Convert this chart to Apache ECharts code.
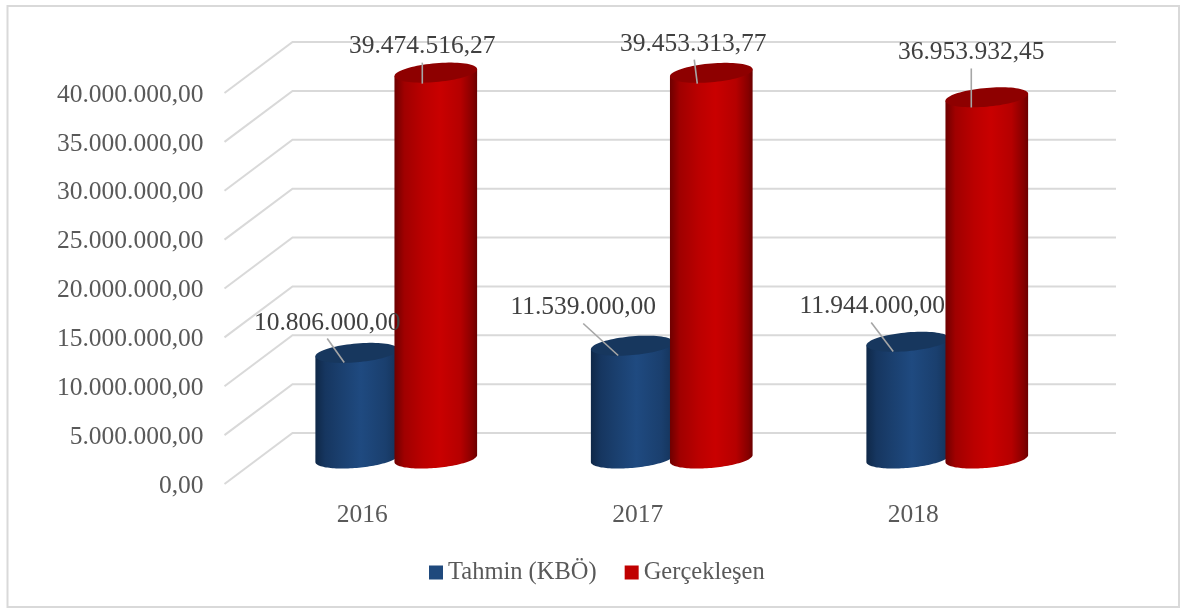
<!DOCTYPE html>
<html>
<head>
<meta charset="utf-8">
<style>html,body{margin:0;padding:0;background:#fff}#c{width:1180px;height:608px}</style>
<script src="https://cdn.jsdelivr.net/npm/echarts@6/dist/echarts.min.js"></script>
</head>
<body>
<div id="c"></div>
<script>
const categories = ['2016', '2017', '2018'];
const seriesNames = ['Tahmin (KBÖ)', 'Gerçekleşen'];
const tahmin = [10806000.00, 11539000.00, 11944000.00];
const gerceklesen = [39474516.27, 39453313.77, 36953932.45];
const axisTicks = [0, 5000000, 10000000, 15000000, 20000000, 25000000, 30000000, 35000000, 40000000];

// Layout of the pseudo-3D look (screen pixels, separate from the data)
const FONT = '"Liberation Serif", serif';
const FONT_SIZE = 25.5;
const DEPTH_X = 68, DEPTH_Y = -51, WALL_INSET = 3;
// label centre, leader start, leader end, relative to each cap centre
const blueLabelLayout = [
  [[-29.5, -29.4], [-29.5, -14.4], [-12.5, 9.6]],
  [[-49, -38.2], [-49, -22.2], [-14, 9.8]],
  [[-35.5, -35.2], [-36.5, -19.2], [-14.5, 9.8]]
];
const redLabelLayout = [
  [[-13.5, -26], [-13.5, -10], [-13.5, 11]],
  [[-18, -28.3], [-17, -13.3], [-14, 10.7]],
  [[-15.5, -44.8], [-15.5, -28.8], [-15.5, 10.2]]
];

const fmt = v => {
  const s = v.toFixed(2).split('.');
  return s[0].replace(/\B(?=(\d{3})+$)/g, '.') + ',' + s[1];
};

function ellipsePts(cx, cy, a, b, k, from, to, n) {
  const pts = [];
  for (let i = 0; i <= n; i++) {
    const t = from + (to - from) * i / n;
    pts.push([cx + a * Math.cos(t), cy + b * Math.sin(t) - k * Math.cos(t)]);
  }
  return pts;
}

function cylinder(side, stops, capColor, layout) {
  return function (params, api) {
    const i = api.value(0), v = api.value(1);
    const band = api.size([1, 0])[0];
    const a = band * 0.15, b = 9.4, k = 3.5;
    const p = api.coord([i, v]), p0 = api.coord([i, 0]);
    const cx = p[0] + DEPTH_X / 2 + side * band * 0.1435;
    const topY = p[1] + DEPTH_Y / 2, botY = p0[1] + DEPTH_Y / 2;
    const body = [[cx - a, topY + k]]
      .concat(ellipsePts(cx, botY, a, b, k, Math.PI, 0, 60))
      .concat([[cx + a, topY - k]]);
    const cap = ellipsePts(cx, topY, a, b, k, 0, Math.PI * 2, 80);
    const l = layout[i];
    return {
      type: 'group',
      children: [
        { type: 'polygon', shape: { points: body },
          style: { fill: { type: 'linear', x: 0, y: 0, x2: 1, y2: 0, colorStops: stops } } },
        { type: 'polygon', shape: { points: cap }, style: { fill: capColor } },
        { type: 'line', z2: 20,
          shape: { x1: cx + l[1][0], y1: topY + l[1][1], x2: cx + l[2][0], y2: topY + l[2][1] },
          style: { stroke: '#a6a6a6', lineWidth: 1.6 } },
        { type: 'text', z2: 21, x: cx + l[0][0], y: topY + l[0][1],
          style: { text: fmt(v), fill: '#404040', font: FONT_SIZE + 'px ' + FONT,
                   textAlign: 'center', textVerticalAlign: 'middle' } }
      ]
    };
  };
}

const blueStops = [
  { offset: 0, color: '#0f2848' }, { offset: 0.12, color: '#163660' },
  { offset: 0.3, color: '#1a3f6e' }, { offset: 0.55, color: '#1f4a80' },
  { offset: 0.85, color: '#1a3f6e' }, { offset: 1, color: '#14335a' }
];
const redStops = [
  { offset: 0, color: '#6e0000' }, { offset: 0.12, color: '#a00000' },
  { offset: 0.35, color: '#bb0000' }, { offset: 0.55, color: '#c90000' },
  { offset: 0.8, color: '#b50000' }, { offset: 0.95, color: '#850000' }, { offset: 1, color: '#6a0000' }
];

const chart = echarts.init(document.getElementById('c'), null, { renderer: 'canvas' });
chart.setOption({
  animation: false,
  backgroundColor: '#ffffff',
  graphic: [{
    type: 'rect', silent: true, z: 0,
    shape: { x: 7.5, y: 6, width: 1171.5, height: 601 },
    style: { fill: '#ffffff', stroke: '#d9d9d9', lineWidth: 2 }
  }],
  grid: { left: 224.5, right: 129, top: 93, bottom: 124 },
  legend: {
    data: seriesNames, left: 424, top: 555, itemWidth: 14, itemHeight: 14, itemGap: 28,
    icon: 'rect', selectedMode: false,
    textStyle: { fontFamily: FONT, fontSize: 24.5, color: '#595959' }
  },
  xAxis: {
    type: 'category', data: categories,
    axisLine: { show: false }, axisTick: { show: false }, splitLine: { show: false },
    axisLabel: { fontFamily: FONT, fontSize: FONT_SIZE, color: '#595959', margin: 18 }
  },
  yAxis: {
    type: 'value', min: 0, max: 40000000, interval: 5000000,
    axisLine: { show: false }, axisTick: { show: false }, splitLine: { show: false },
    axisLabel: {
      margin: 21,
      formatter: v => '{t|' + fmt(v) + '}',
      rich: { t: { fontFamily: FONT, fontSize: FONT_SIZE, color: '#595959', padding: [4, 0, 0, 0] } }
    }
  },
  series: [
    {
      type: 'custom', name: 'wall', silent: true, clip: false, z: 1,
      data: axisTicks.map(v => [0, v]), encode: { x: 0, y: 1 },
      renderItem(params, api) {
        const cs = params.coordSys;
        const y = api.coord([0, api.value(1)])[1];
        return {
          type: 'polyline',
          shape: { points: [[cs.x, y], [cs.x + DEPTH_X, y + DEPTH_Y],
                            [cs.x + cs.width + DEPTH_X - WALL_INSET, y + DEPTH_Y]] },
          style: { fill: null, stroke: '#d9d9d9', lineWidth: 2 }
        };
      }
    },
    {
      type: 'custom', name: seriesNames[0], clip: false, z: 2, itemStyle: { color: '#1f497d' },
      data: tahmin.map((v, i) => [i, v]), encode: { x: 0, y: 1 },
      renderItem: cylinder(-1, blueStops, '#17375e', blueLabelLayout)
    },
    {
      type: 'custom', name: seriesNames[1], clip: false, z: 2, itemStyle: { color: '#c00000' },
      data: gerceklesen.map((v, i) => [i, v]), encode: { x: 0, y: 1 },
      renderItem: cylinder(1, redStops, '#8e0000', redLabelLayout)
    }
  ]
});
</script>
</body>
</html>
